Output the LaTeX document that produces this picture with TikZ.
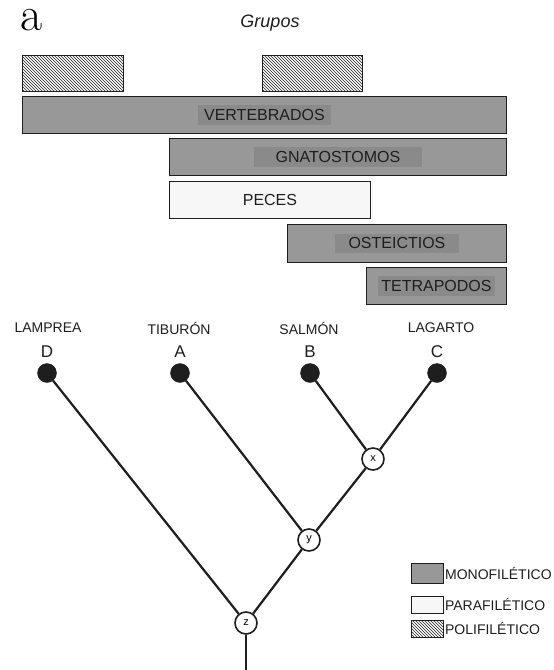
\documentclass[tikz,border=0pt]{standalone}
\usepackage{fontspec}
\newfontfamily\arial{Liberation Sans}
\usetikzlibrary{patterns}
\definecolor{boxgray}{RGB}{152,152,152}
\definecolor{labgray}{RGB}{138,138,138}
\definecolor{ink}{RGB}{30,30,30}
\tikzset{
  grp/.style={draw=ink, line width=0.9pt, inner sep=0pt, anchor=north west},
  mono/.style={grp, fill=boxgray},
  para/.style={grp, fill=gray!6},
  poli/.style={grp, pattern=north west lines, pattern color=ink},
  lab/.style={fill=labgray, text=ink, inner xsep=6pt, inner ysep=4pt, font=\arial\fontsize{16}{18}\selectfont},
  plab/.style={text=ink, font=\arial\fontsize{16}{18}\selectfont},
  taxon/.style={text=ink, font=\arial\fontsize{14}{16}\selectfont},
  letter/.style={text=ink, font=\arial\fontsize{17}{19}\selectfont},
  tip/.style={circle, fill=ink, draw=ink, minimum size=19pt, inner sep=0pt},
  anc/.style={circle, fill=white, draw=ink, line width=1.6pt, minimum size=22pt, inner sep=0pt, font=\arial\fontsize{11}{12}\selectfont},
  branch/.style={draw=ink, line width=2.2pt},
  leg/.style={draw=ink, line width=0.9pt, inner sep=0pt, minimum width=32pt, anchor=north west},
  legtext/.style={anchor=west, inner sep=1pt, text=ink, font=\arial\fontsize{14}{16}\selectfont}
}
\begin{document}
\begin{tikzpicture}[x=1pt,y=-1pt]
\useasboundingbox[fill=white] (0,0) rectangle (554,670);
% title
\node[anchor=base, inner sep=0pt, font=\fontsize{48}{48}\selectfont] (a) at (32,30) {a};
\node[font=\arial\itshape\fontsize{18}{20}\selectfont, text=ink] (grupos) at (270,23) {Grupos};
% group bars
\node[poli, minimum width=101pt, minimum height=36pt] (h1) at (22,55) {};
\node[poli, minimum width=100pt, minimum height=36pt] (h2) at (262,55) {};
\node[mono, minimum width=484pt, minimum height=37pt] (vert) at (22,96) {};
\node[lab] (vertl) at (vert.center) {VERTEBRADOS};
\node[mono, minimum width=337pt, minimum height=37pt] (gnat) at (169,138) {};
\node[lab, inner xsep=22pt] (gnatl) at (gnat.center) {GNATOSTOMOS};
\node[para, minimum width=201pt, minimum height=37pt] (pec) at (169,181) {};
\node[plab] (pecl) at (pec.center) {PECES};
\node[mono, minimum width=219pt, minimum height=38pt] (ost) at (287,224) {};
\node[lab, inner xsep=14pt] (ostl) at (ost.center) {OSTEICTIOS};
\node[mono, minimum width=140pt, minimum height=37pt] (tet) at (366,267) {};
\node[lab, inner xsep=3pt] (tetl) at (tet.center) {TETRAPODOS};
% taxa
\node[taxon] (nD) at (48,328) {LAMPREA};
\node[taxon] (nA) at (179,328) {TIBURÓN};
\node[taxon] (nB) at (309,328) {SALMÓN};
\node[taxon] (nC) at (441,328) {LAGARTO};
\node[letter] (lD) at (47,352) {D};
\node[letter] (lA) at (180,352) {A};
\node[letter] (lB) at (310,352) {B};
\node[letter] (lC) at (437,352) {C};
\node[tip] (tD) at (47,373) {};
\node[tip] (tA) at (180,373) {};
\node[tip] (tB) at (310,373) {};
\node[tip] (tC) at (437,373) {};
% ancestors
\node[anc] (x) at (373,459) {x};
\node[anc] (y) at (309,540) {y};
\node[anc] (z) at (246,623) {z};
\coordinate (root) at (246,670);
\draw[branch] (tB) -- (x);
\draw[branch] (tC) -- (x);
\draw[branch] (x) -- (y);
\draw[branch] (tA) -- (y);
\draw[branch] (y) -- (z);
\draw[branch] (tD) -- (z);
\draw[branch] (z) -- (root);
% legend
\node[leg, fill=boxgray, minimum height=20pt] (lm) at (411,563) {};
\node[legtext] (lmt) at (lm.east) {MONOFILÉTICO};
\node[leg, fill=gray!6, minimum height=17pt] (lp) at (411,596) {};
\node[legtext] (lpt) at (lp.east) {PARAFILÉTICO};
\node[leg, pattern=north west lines, pattern color=ink, minimum height=17pt] (lq) at (411,620) {};
\node[legtext] (lqt) at (lq.east) {POLIFILÉTICO};
\end{tikzpicture}
\end{document}
